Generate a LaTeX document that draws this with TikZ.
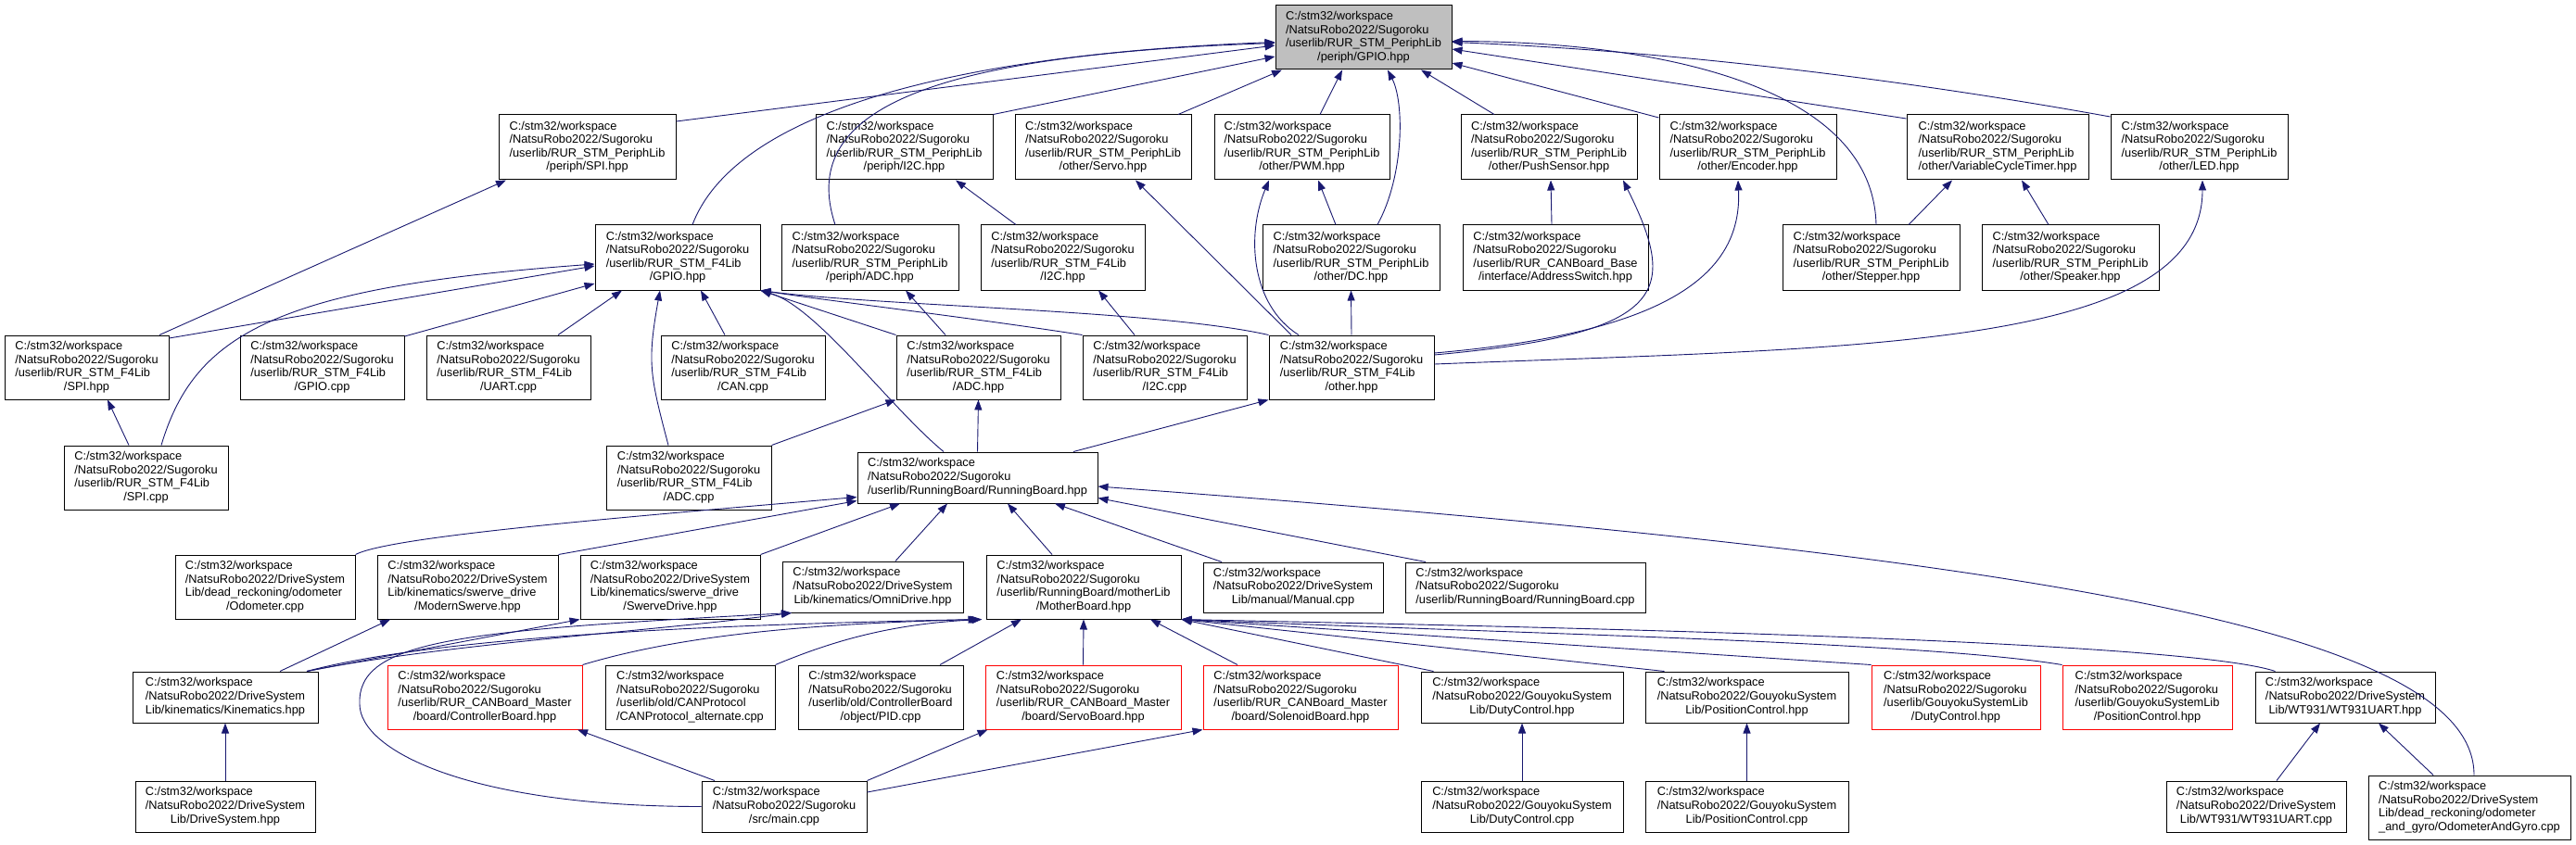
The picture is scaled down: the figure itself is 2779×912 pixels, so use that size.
\documentclass[tikz,border=0pt]{standalone}
\usepackage{fontspec}
\setmainfont{Liberation Sans}
\usetikzlibrary{arrows.meta}
\definecolor{edgec}{RGB}{25,25,112}
\definecolor{rootfill}{RGB}{191,191,191}
\newcommand{\ntx}[2]{\begin{tabular}{@{}l@{}}#1\\\multicolumn{1}{@{}c@{}}{#2}\end{tabular}}
\newcommand{\pCW}{C:/stm32/workspace}
\newcommand{\pNS}{/NatsuRobo2022/Sugoroku}
\newcommand{\pND}{/NatsuRobo2022/DriveSystem}
\newcommand{\pNG}{/NatsuRobo2022/GouyokuSystem}
\newcommand{\pPL}{/userlib/RUR\_STM\_PeriphLib}
\newcommand{\pFL}{/userlib/RUR\_STM\_F4Lib}
\newcommand{\pCM}{/userlib/RUR\_CANBoard\_Master}
\newcommand{\bx}[7][box]{\node[#1,minimum width=#5,minimum height=#6] (#2) at (#3,#4) {#7};}
\tikzset{
  box/.style={draw=black,line width=1pt,fill=white,inner sep=0pt,font=\fontsize{12.8}{14.6}\selectfont},
  rbox/.style={box,draw=red},
  root/.style={box,fill=rootfill},
  e/.style={draw=edgec,line width=0.9pt,-{Triangle[length=11pt,width=8pt]}}
}
\begin{document}
\begin{tikzpicture}[x=1pt,y=-1pt]
\useasboundingbox (0,0) rectangle (2779,912);
\fill[white] (0,0) rectangle (2779,912);
% row 1
\bx[root]{gpiop}{1471}{40.5}{190}{69}{\ntx{\pCW\\\pNS\\\pPL}{/periph/GPIO.hpp}}
% row 2
\bx{spip}{633.5}{159}{191}{70}{\ntx{\pCW\\\pNS\\\pPL}{/periph/SPI.hpp}}
\bx{i2cp}{975.5}{159}{191}{70}{\ntx{\pCW\\\pNS\\\pPL}{/periph/I2C.hpp}}
\bx{servo}{1190}{159}{190}{70}{\ntx{\pCW\\\pNS\\\pPL}{/other/Servo.hpp}}
\bx{pwm}{1404.5}{159}{189}{70}{\ntx{\pCW\\\pNS\\\pPL}{/other/PWM.hpp}}
\bx{push}{1671}{159}{190}{70}{\ntx{\pCW\\\pNS\\\pPL}{/other/PushSensor.hpp}}
\bx{enc}{1885.5}{159}{191}{70}{\ntx{\pCW\\\pNS\\\pPL}{/other/Encoder.hpp}}
\bx{vct}{2155}{159}{196}{70}{\ntx{\pCW\\\pNS\\\pPL}{/other/VariableCycleTimer.hpp}}
\bx{led}{2372.5}{159}{191}{70}{\ntx{\pCW\\\pNS\\\pPL}{/other/LED.hpp}}
% row 3
\bx{gpio4}{731}{278}{178}{70}{\ntx{\pCW\\\pNS\\\pFL}{/GPIO.hpp}}
\bx{adcp}{938.5}{278}{191}{70}{\ntx{\pCW\\\pNS\\\pPL}{/periph/ADC.hpp}}
\bx{i2c4}{1146.5}{278}{177}{70}{\ntx{\pCW\\\pNS\\\pFL}{/I2C.hpp}}
\bx{dc}{1457.5}{278}{191}{70}{\ntx{\pCW\\\pNS\\\pPL}{/other/DC.hpp}}
\bx{addr}{1678}{278}{200}{70}{\ntx{\pCW\\\pNS\\/userlib/RUR\_CANBoard\_Base}{/interface/AddressSwitch.hpp}}
\bx{stepper}{2018.5}{278}{191}{70}{\ntx{\pCW\\\pNS\\\pPL}{/other/Stepper.hpp}}
\bx{speaker}{2233.5}{278}{191}{70}{\ntx{\pCW\\\pNS\\\pPL}{/other/Speaker.hpp}}
% row 4
\bx{spi4}{93.5}{396.5}{177}{69}{\ntx{\pCW\\\pNS\\\pFL}{/SPI.hpp}}
\bx{gpiocpp}{347.5}{396.5}{177}{69}{\ntx{\pCW\\\pNS\\\pFL}{/GPIO.cpp}}
\bx{uart}{548.5}{396.5}{177}{69}{\ntx{\pCW\\\pNS\\\pFL}{/UART.cpp}}
\bx{can}{801.5}{396.5}{177}{69}{\ntx{\pCW\\\pNS\\\pFL}{/CAN.cpp}}
\bx{adc4}{1055.5}{396.5}{177}{69}{\ntx{\pCW\\\pNS\\\pFL}{/ADC.hpp}}
\bx{i2ccpp}{1256.5}{396.5}{177}{69}{\ntx{\pCW\\\pNS\\\pFL}{/I2C.cpp}}
\bx{other}{1458}{396.5}{178}{69}{\ntx{\pCW\\\pNS\\\pFL}{/other.hpp}}
% row 5
\bx{spicpp}{157.5}{515.5}{177}{69}{\ntx{\pCW\\\pNS\\\pFL}{/SPI.cpp}}
\bx{adccpp}{743}{515.5}{178}{69}{\ntx{\pCW\\\pNS\\\pFL}{/ADC.cpp}}
\bx{R}{1054.5}{515.5}{259}{55}{\ntx{\pCW\\\pNS}{/userlib/RunningBoard/RunningBoard.hpp}}
% row 6
\bx{odo}{286}{633.5}{194}{69}{\ntx{\pCW\\\pND\\Lib/dead\_reckoning/odometer}{/Odometer.cpp}}
\bx{modsw}{504.5}{633.5}{195}{69}{\ntx{\pCW\\\pND\\Lib/kinematics/swerve\_drive}{/ModernSwerve.hpp}}
\bx{swerve}{723}{633.5}{194}{69}{\ntx{\pCW\\\pND\\Lib/kinematics/swerve\_drive}{/SwerveDrive.hpp}}
\bx{omni}{941.5}{633.5}{195}{55}{\ntx{\pCW\\\pND}{Lib/kinematics/OmniDrive.hpp}}
\bx{mother}{1169}{633.5}{210}{69}{\ntx{\pCW\\\pNS\\/userlib/RunningBoard/motherLib}{/MotherBoard.hpp}}
\bx{manual}{1395}{634}{194}{54}{\ntx{\pCW\\\pND}{Lib/manual/Manual.cpp}}
\bx{rbcpp}{1645.5}{634}{259}{54}{\ntx{\pCW\\\pNS}{/userlib/RunningBoard/RunningBoard.cpp}}
% row 7
\bx{kin}{243}{752.5}{200}{55}{\ntx{\pCW\\\pND}{Lib/kinematics/Kinematics.hpp}}
\bx[rbox]{ctrl}{523}{752.5}{210}{69}{\ntx{\pCW\\\pNS\\\pCM}{/board/ControllerBoard.hpp}}
\bx{canp}{744.5}{752.5}{183}{69}{\ntx{\pCW\\\pNS\\/userlib/old/CANProtocol}{/CANProtocol\_alternate.cpp}}
\bx{pid}{950}{752.5}{178}{69}{\ntx{\pCW\\\pNS\\/userlib/old/ControllerBoard}{/object/PID.cpp}}
\bx[rbox]{servob}{1168.5}{752.5}{211}{69}{\ntx{\pCW\\\pNS\\\pCM}{/board/ServoBoard.hpp}}
\bx[rbox]{solb}{1403}{752.5}{210}{69}{\ntx{\pCW\\\pNS\\\pCM}{/board/SolenoidBoard.hpp}}
\bx{gduty}{1642}{752.5}{218}{55}{\ntx{\pCW\\\pNG}{Lib/DutyControl.hpp}}
\bx{gpos}{1884.5}{752.5}{219}{55}{\ntx{\pCW\\\pNG}{Lib/PositionControl.hpp}}
\bx[rbox]{sduty}{2110}{752.5}{182}{69}{\ntx{\pCW\\\pNS\\/userlib/GouyokuSystemLib}{/DutyControl.hpp}}
\bx[rbox]{spos}{2316.5}{752.5}{183}{69}{\ntx{\pCW\\\pNS\\/userlib/GouyokuSystemLib}{/PositionControl.hpp}}
\bx{wt}{2530}{752.5}{194}{55}{\ntx{\pCW\\\pND}{Lib/WT931/WT931UART.hpp}}
% row 8
\bx{drive}{243}{870.5}{194}{55}{\ntx{\pCW\\\pND}{Lib/DriveSystem.hpp}}
\bx{main}{846}{870.5}{178}{55}{\ntx{\pCW\\\pNS}{/src/main.cpp}}
\bx{gdutycpp}{1642}{870.5}{218}{55}{\ntx{\pCW\\\pNG}{Lib/DutyControl.cpp}}
\bx{gposcpp}{1884.5}{870.5}{219}{55}{\ntx{\pCW\\\pNG}{Lib/PositionControl.cpp}}
\bx{wtcpp}{2434}{870.5}{194}{55}{\ntx{\pCW\\\pND}{Lib/WT931/WT931UART.cpp}}
\bx{og}{2664}{871.5}{218}{69}{\ntx{\pCW\\\pND\\Lib/dead\_reckoning/odometer}{\_and\_gyro/OdometerAndGyro.cpp}}
\coordinate (mbend) at (388,760);
% edges to GPIO periph
\draw[e] ([yshift=28]spip.east) -- ([yshift=-8.5]gpiop.west);
\draw[e] ([xshift=16]gpio4.north) .. controls +(43,-113) and +(-376,14.5) .. ([yshift=-5]gpiop.west);
\draw[e] ([xshift=-37.5]adcp.north) .. controls +(-41,-123) and +(-376,13) .. ([yshift=-6]gpiop.west);
\draw[e] (i2cp.north east) -- ([yshift=-20.5]gpiop.west);
\draw[e] ([xshift=81]servo.north) -- ([xshift=-88]gpiop.south);
\draw[e] ([xshift=19.5]pwm.north) -- ([xshift=-23]gpiop.south);
\draw[e] ([xshift=28.5]dc.north) .. controls +(29,-53) and +(18,35) .. ([xshift=26]gpiop.south);
\draw[e] ([xshift=-59]push.north) -- ([xshift=62]gpiop.south);
\draw[e] ([yshift=32]enc.west) -- ([yshift=-27.5]gpiop.east);
\draw[e] ([yshift=31]vct.west) -- ([yshift=-12.5]gpiop.east);
\draw[e] ([yshift=33]led.west) .. controls +(-227,-41) and +(234,9.5) .. ([yshift=-5]gpiop.east);
\draw[e] ([xshift=5.5]stepper.north) .. controls +(-4,-163) and +(184,0.5) .. ([yshift=-4]gpiop.east);
% edges to GPIO F4Lib
\draw[e] ([yshift=31.5]spi4.east) -- ([yshift=-9]gpio4.west);
\draw[e] ([xshift=16.5]spicpp.north) .. controls +(36,-121) and +(-342,25) .. ([yshift=-7]gpio4.west);
\draw[e] ([yshift=33.5]gpiocpp.east) -- ([yshift=-28]gpio4.west);
\draw[e] ([xshift=53.5]uart.north) -- ([xshift=-60]gpio4.south);
\draw[e] ([xshift=-19.5]can.north) -- ([xshift=25]gpio4.south);
\draw[e] ([xshift=-22]adccpp.north) .. controls +(-20,-76) and +(-14,78) .. ([xshift=-19]gpio4.south);
\draw[e] (adc4.north west) -- (gpio4.south east);
\draw[e] (i2ccpp.north west) .. controls +(-108,-17) and +(80,12) .. (gpio4.south east);
\draw[e] (other.north west) .. controls +(-119,-27) and +(130,17) .. (gpio4.south east);
\draw[e] ([xshift=-36.5]R.north) .. controls +(-58,-48) and +(60,17) .. (gpio4.south east);
% RunningBoard
\draw[e] (R.north) -- (adc4.south);
\draw[e] ([xshift=103.5]R.north) -- (other.south west);
\draw[e] (adccpp.north east) -- (adc4.south west);
\draw[e] (odo.north east) .. controls +(37,-19) and +(-275,23.5) .. ([yshift=-21]R.west);
\draw[e] (modsw.north east) -- ([yshift=-25]R.west);
\draw[e] (swerve.north east) -- ([xshift=-83.5]R.south);
\draw[e] ([xshift=24.5]omni.north) -- ([xshift=-32.5]R.south);
\draw[e] ([xshift=-34]mother.north) -- ([xshift=32.5]R.south);
\draw[e] ([xshift=-77]manual.north) -- ([xshift=83.5]R.south);
\draw[e] ([xshift=-107.5]rbcpp.north) -- ([yshift=-22]R.east);
\draw[e] ([xshift=5]og.north) .. controls +(0,-156) and +(1016,75) .. ([yshift=-9.5]R.east);
% other.hpp
\draw[e] ([xshift=-65]other.north) -- ([xshift=35]servo.south);
\draw[e] ([xshift=-57]other.north) .. controls +(-51,-32) and +(-25,60) .. ([xshift=-35.5]pwm.south);
\draw[e] ([xshift=-16.5]dc.north) -- ([xshift=17.5]pwm.south);
\draw[e] (other.north) -- (dc.south);
\draw[e] ([xshift=-4]addr.north) -- ([xshift=2]push.south);
\draw[e] ([yshift=13.5]other.east) .. controls +(253,-23) and +(60,121) .. ([xshift=80]push.south);
\draw[e] ([yshift=15.5]other.east) .. controls +(243,-21) and +(5,106) .. ([xshift=-10.5]enc.south);
\draw[e] ([yshift=3.5]other.east) .. controls +(453,-18) and +(0,183) .. ([xshift=3.5]led.south);
% small
\draw[e] ([xshift=-50.5]i2c4.north) -- ([xshift=55.5]i2cp.south);
\draw[e] ([xshift=-32.5]i2ccpp.north) -- ([xshift=38.5]i2c4.south);
\draw[e] ([xshift=-35.5]adc4.north) -- ([xshift=38.5]adcp.south);
\draw[e] ([xshift=78.5]spi4.north) -- ([xshift=-87.5]spip.south);
\draw[e] ([xshift=-18.5]spicpp.north) -- ([xshift=22.5]spi4.south);
\draw[e] ([xshift=40.5]stepper.north) -- ([xshift=-49]vct.south);
\draw[e] ([xshift=-23.5]speaker.north) -- ([xshift=26]vct.south);
% kinematics / mother
\draw[e] ([xshift=88]kin.north) .. controls +(150,-40) and +(-250,5) .. ([xshift=-8]mother.south west);
\draw[e] ([xshift=88]kin.north) .. controls +(150,-30) and +(-150,20) .. ([xshift=-87.5]omni.south);
\draw[e] ([xshift=88]kin.north) -- (swerve.south west);
\draw[e] ([xshift=59]kin.north) -- ([xshift=-83.5]modsw.south);
\draw[e] (drive.north) -- (kin.south);
\draw[e] (ctrl.north east) .. controls +(100,-30) and +(-200,5) .. ([xshift=-6]mother.south west);
\draw[e] (canp.north east) .. controls +(60,-25) and +(-100,5) .. ([xshift=-4]mother.south west);
\draw[e] ([xshift=64]pid.north) -- ([xshift=-67]mother.south);
\draw[e] (servob.north) -- (mother.south);
\draw[e] ([xshift=-68]solb.north) -- ([xshift=72]mother.south);
\draw[e] ([xshift=14]gduty.north west) -- (mother.south east);
\draw[e] ([xshift=21]gpos.north west) -- (mother.south east);
\draw[e] (sduty.north west) -- (mother.south east);
\draw[e] (spos.north west) .. controls +(-150,-25) and +(350,15) .. (mother.south east);
\draw[e] ([xshift=22]wt.north west) .. controls +(-105,-35) and +(326,7) .. (mother.south east);
\draw[e] (gdutycpp.north) -- (gduty.south);
\draw[e] (gposcpp.north) -- (gpos.south);
\draw[e] ([xshift=22]wtcpp.north) -- ([xshift=-27]wt.south);
\draw[e] ([xshift=-39]og.north) -- ([xshift=36]wt.south);
\draw[e] ([xshift=-75]main.north) -- ([xshift=100]ctrl.south);
\draw[e] (main.north east) -- ([xshift=3]servob.south west);
\draw[e] ([yshift=15.5]main.east) -- (solb.south west);
\draw[e] (main.west) .. controls +(-250,0) and +(0,50) .. (mbend) .. controls +(-3,-70) and +(-354,19) .. ([xshift=-87.5]omni.south);
\end{tikzpicture}
\end{document}
